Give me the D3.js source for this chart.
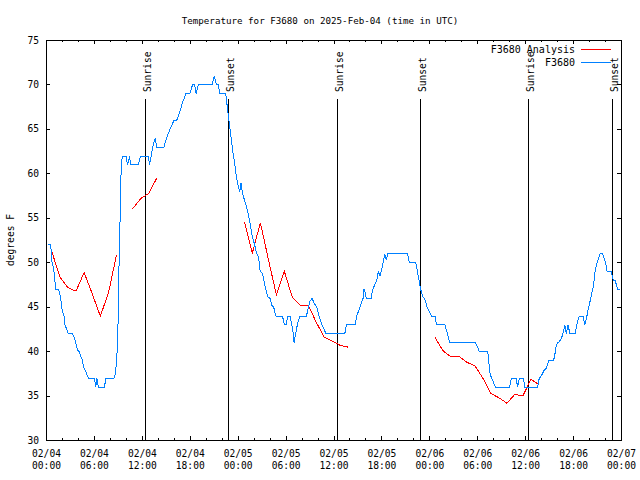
<!DOCTYPE html>
<html><head><meta charset="utf-8">
<script src="https://cdn.jsdelivr.net/npm/d3@7"></script>
<style>
body{margin:0;background:#fff}
svg{display:block}
text{font-family:"DejaVu Sans Mono","Liberation Mono",monospace;font-size:9.6px;fill:#000}
</style>
</head><body>
<svg id="chart" width="640" height="480"></svg>
<script>
// ---------- data ----------
const titleText = "Temperature for F3680 on 2025-Feb-04 (time in UTC)";
const yAxisLabel = "degrees F";
const seriesNames = ["F3680 Analysis", "F3680"];
const seriesColors = ["#ff0000", "#0080ff"];
const startTime = Date.UTC(2025, 1, 4, 0, 0); // hours below are counted from 2025-02-04 00:00 UTC
const xMajorHours = [0, 6, 12, 18, 24, 30, 36, 42, 48, 54, 60, 66, 72];
const xTickLabels = ["02/04\n00:00","02/04\n06:00","02/04\n12:00","02/04\n18:00",
                     "02/05\n00:00","02/05\n06:00","02/05\n12:00","02/05\n18:00",
                     "02/06\n00:00","02/06\n06:00","02/06\n12:00","02/06\n18:00","02/07\n00:00"];
const xMinorStep = 2;
const yTicks = [30, 35, 40, 45, 50, 55, 60, 65, 70, 75];
const sunNames = ["Sunrise", "Sunset", "Sunrise", "Sunset", "Sunrise", "Sunset"];
const sunHours = [12.40, 22.79, 36.44, 46.83, 60.35, 70.87];

// Analysis (red): null marks a gap
const anaHours = [0.65,1.67,2.68,3.70,4.71,5.73,6.74,7.76,8.77, 9.8,
                  10.77,11.78,12.79,13.80, 14.8,
                  24.78,25.78,26.78,27.78,28.78,29.78,30.78,31.78,32.78,33.78,34.78,35.78,36.78,37.78, 38.8,
                  48.65,49.65,50.65,51.65,52.65,53.65,54.65,55.65,56.65,57.65,58.65,59.65,60.65,61.65];
const anaTemps = [51.3,48.4,47.2,46.8,48.9,46.5,44.0,46.6,50.9, null,
                  56.05,57.2,57.8,59.5, null,
                  54.6,51.1,54.5,50.4,46.4,49.05,46.1,45.2,45.2,43.3,41.6,41.2,40.7,40.5, null,
                  41.6,40.1,39.4,39.45,38.8,38.4,37.0,35.3,34.8,34.2,35.2,35.0,36.9,36.3];

// Observations (blue)
const obsHours = [0.2,0.53,0.7,0.87,1.0,1.16,1.5,1.65,1.78,1.9,2.03,2.2,2.32,2.53,2.74,3.24,3.5,3.66,3.87,4.1,
  4.28,4.5,4.62,4.8,5.03,5.24,6.0,6.16,6.3,6.5,7.24,7.45,8.45,8.62,8.78,8.9,9.03,9.12,9.2,9.28,
  9.4,9.49,9.95,10.16,10.4,10.53,11.49,11.78,12.74,12.9,13.1,13.3,13.6,13.8,14.7,15.03,15.45,15.95,16.3,16.7,
  17.03,17.45,17.95,18.28,18.55,18.75,19.0,20.74,21.0,21.28,21.5,21.7,22.45,22.74,22.95,23.16,23.37,23.58,23.78,23.99,
  24.2,24.37,24.5,24.8,25.05,25.25,25.5,25.71,25.92,26.13,26.33,26.55,26.75,26.95,27.15,27.35,27.55,27.75,28.0,28.21,
  28.45,28.6,28.75,29.55,29.79,30.0,30.21,30.5,30.65,30.85,31.0,31.15,31.35,31.55,31.75,32.55,32.75,32.95,33.25,33.55,
  33.85,34.05,34.25,34.45,34.65,35.0,37.35,37.55,38.65,38.85,39.05,39.25,39.45,39.65,39.75,39.85,40.05,40.65,40.85,41.15,
  41.35,41.55,41.75,41.95,42.15,42.35,42.55,42.75,45.21,45.45,46.25,46.45,46.65,46.85,47.15,47.35,47.65,47.95,48.21,48.65,
  48.85,49.9,50.2,50.5,53.7,54.0,54.2,55.26,55.4,55.55,55.7,55.9,56.2,58.0,58.2,58.8,59.0,59.2,59.7,59.9,
  61.5,61.7,61.9,62.1,62.3,62.5,62.7,62.9,63.5,63.7,63.8,64.0,64.2,64.4,64.6,64.8,64.9,65.1,65.3,65.55,
  66.2,66.4,66.7,67.2,67.4,67.6,67.8,68.05,68.26,68.5,68.7,68.9,69.1,69.3,69.6,69.8,70.0,70.2,70.7,71.0,
  71.2,71.4,71.5,71.8];
const obsTemps = [52,52,50,49.5,48.5,47,47,46.5,46,45,44.5,44,43,42.5,42,42,41.5,41,40.2,40,
  39.5,39,38.3,38,37.5,37,37,36,37,36,36,37,37,37.5,39,41,46,52.5,54.4,58.9,
  61.1,62,62,61,62,61,61,62,62,61,62,63,64,63,63,64,65,66,66,67,
  68,69,69,70,70,69,70,70,71,70,70,69,69,66.75,65.25,63.75,62.25,61.1,59.6,58.7,
  58,59,58,57,56.25,55.5,54.4,53.25,52.5,51.75,51,50.6,49.1,48.9,48.4,47.4,46.7,46.1,46,45.2,
  45,44.4,44,44,43,43,44,44,43.3,42.4,41,41.8,42.75,43.5,44,44,44.8,45.6,46,45.4,
  45,44.25,43.7,43.1,42.75,42,42,43,43,44,44.5,45,45.6,46,47,46.8,46,46,47,47.6,
  48,49,48.5,49.2,50,51,50.3,51,51,50,50,49,48,47,46.1,46,45,44.5,44,44,
  43,43,42,41,41,40.5,40,40,38.7,37.5,37.1,36.7,36,36,37,37,36,37,37,36,
  36,37,37.2,37.5,37.9,38,38.4,39,39,39.9,40.5,41,41.1,41.4,41.8,42.5,43,42,43,42,
  42,43,44,44,43,43.7,44.6,45.6,46.5,47.4,49.1,49.9,50.4,51,51,50.6,50,49,49,48,
  48,47.4,47,47];

// ---------- drawing ----------
const svg = d3.select("#chart");
const W = 640, H = 480;
const L = 46, R = 621, T = 40, B = 440;
const toDate = h => new Date(startTime + h * 3600e3);

const x = d3.scaleUtc().domain([toDate(0), toDate(72)]).range([L, R]);
const y = d3.scaleLinear().domain([30, 75]).range([B, T]);

svg.append("rect").attr("width", W).attr("height", H).attr("fill", "#fff");

const minorHours = d3.range(0, 72 + 0.001, xMinorStep);

// bottom axis: minor + major
svg.append("g").attr("transform", `translate(0,${B})`)
  .call(d3.axisBottom(x).tickValues(minorHours.map(toDate)).tickSize(-2).tickSizeOuter(0).tickFormat(""))
  .call(g => g.select(".domain").remove());
const bottom = svg.append("g").attr("transform", `translate(0,${B})`)
  .call(d3.axisBottom(x).tickValues(xMajorHours.map(toDate)).tickSize(-4).tickSizeOuter(0)
        .tickFormat((d, i) => xTickLabels[i]))
  .call(g => g.select(".domain").remove());
bottom.selectAll(".tick text").each(function(d, i) {
  const t = d3.select(this);
  const lines = xTickLabels[i].split("\n");
  t.text(null).attr("y", 0).attr("dy", null);
  lines.forEach((ln, k) => t.append("tspan").attr("x", 0).attr("y", 17 + k * 12).text(ln));
});

// top axis (mirror ticks)
svg.append("g").attr("transform", `translate(0,${T})`)
  .call(d3.axisTop(x).tickValues(minorHours.map(toDate)).tickSize(-2).tickSizeOuter(0).tickFormat(""))
  .call(g => g.select(".domain").remove());
svg.append("g").attr("transform", `translate(0,${T})`)
  .call(d3.axisTop(x).tickValues(xMajorHours.map(toDate)).tickSize(-4).tickSizeOuter(0).tickFormat(""))
  .call(g => g.select(".domain").remove());

// left axis
svg.append("g").attr("transform", `translate(${L},0)`)
  .call(d3.axisLeft(y).tickValues(yTicks).tickSize(-4).tickSizeOuter(0).tickPadding(7).tickFormat(d3.format("d")))
  .call(g => g.select(".domain").remove());
// right axis (mirror)
svg.append("g").attr("transform", `translate(${R},0)`)
  .call(d3.axisRight(y).tickValues(yTicks).tickSize(-4).tickSizeOuter(0).tickFormat(""))
  .call(g => g.select(".domain").remove());

svg.selectAll(".tick line").attr("stroke", "#000").attr("shape-rendering", "crispEdges");
svg.selectAll(".tick text").attr("font-family", null).attr("font-size", null).attr("fill", "#000");

// frame
svg.append("rect").attr("x", L + 0.5).attr("y", T + 0.5).attr("width", R - L).attr("height", B - T)
  .attr("fill", "none").attr("stroke", "#000").attr("shape-rendering", "crispEdges");

// sunrise / sunset markers
const sun = svg.append("g");
sunHours.forEach((h, i) => {
  const sx = Math.round(x(toDate(h))) + 0.5;
  sun.append("line").attr("x1", sx).attr("x2", sx).attr("y1", 99).attr("y2", B)
    .attr("stroke", "#000").attr("shape-rendering", "crispEdges");
  sun.append("text").attr("transform", `translate(${sx + 5},92) rotate(-90)`)
    .attr("text-anchor", "start").text(sunNames[i]);
});

// data lines
const plot = svg.append("g").attr("transform", "translate(0.5,0.5)");
const line = d3.line().defined(d => d[1] !== null).x(d => x(toDate(d[0]))).y(d => y(d[1]));
const anaData = anaHours.map((h, i) => [h, anaTemps[i]]);
const obsData = obsHours.map((h, i) => [h, obsTemps[i]]);
plot.append("path").datum(anaData).attr("d", line).attr("fill", "none")
  .attr("stroke", seriesColors[0]).attr("stroke-width", 1).attr("shape-rendering", "crispEdges");
plot.append("path").datum(obsData).attr("d", line).attr("fill", "none")
  .attr("stroke", seriesColors[1]).attr("stroke-width", 1).attr("shape-rendering", "crispEdges");

// legend
const leg = svg.append("g");
seriesNames.forEach((n, i) => {
  const ly = 49.5 + i * 13;
  leg.append("text").attr("x", 575).attr("y", ly + 3.5).attr("text-anchor", "end")
    .style("font-size", "10px").text(n);
  leg.append("line").attr("x1", 581).attr("x2", 611).attr("y1", ly).attr("y2", ly)
    .attr("stroke", seriesColors[i]).attr("shape-rendering", "crispEdges");
});

// title and y label
svg.append("text").attr("x", 320).attr("y", 23.5).attr("text-anchor", "middle")
  .style("font-size", "9.2px").text(titleText);
svg.append("text").attr("transform", "translate(13.5,240) rotate(-90)").attr("text-anchor", "middle").text(yAxisLabel);
</script>
</body></html>
